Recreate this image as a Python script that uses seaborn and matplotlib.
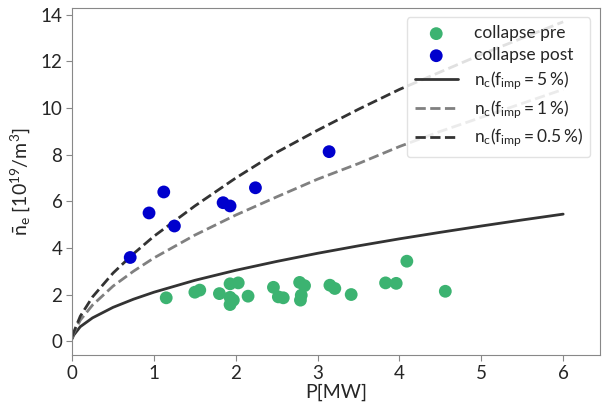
import matplotlib
matplotlib.use("Agg")
import matplotlib.pyplot as plt
import seaborn as sns
import pandas as pd

pre_P = [1.15, 1.50, 1.56, 1.80, 1.93, 2.03, 1.93, 1.97, 1.93, 2.15, 2.46, 2.52, 2.58,
         2.78, 2.84, 2.80, 2.79, 3.15, 3.21, 3.41, 3.83, 3.96, 4.09, 4.56]
pre_n = [1.86, 2.10, 2.19, 2.04, 2.46, 2.50, 1.88, 1.76, 1.57, 1.93, 2.31, 1.90, 1.86,
         2.52, 2.38, 1.97, 1.76, 2.40, 2.26, 2.00, 2.50, 2.48, 3.43, 2.14]

post_P = [0.71, 0.94, 1.12, 1.25, 1.845, 1.93, 2.24, 3.14]
post_n = [3.59, 5.50, 6.40, 4.94, 5.94, 5.80, 6.58, 8.13]

# critical density curves, values read at these powers
curve_P = [0.0, 0.02, 0.1, 0.25, 0.5, 0.75, 1.0, 1.5, 2.0, 2.5, 3.0, 3.5, 4.0, 4.5, 5.0, 5.5, 6.0]
nc_5 = [0.10, 0.26, 0.62, 1.00, 1.45, 1.80, 2.10, 2.61, 3.04, 3.42, 3.77, 4.09, 4.39, 4.67, 4.94, 5.20, 5.45]
nc_1 = [0.15, 0.34, 0.90, 1.55, 2.36, 3.00, 3.57, 4.55, 5.41, 6.19, 6.95, 7.62, 8.35, 9.00, 9.60, 10.20, 10.80]
nc_05 = [0.20, 0.39, 1.07, 1.90, 2.92, 3.75, 4.50, 5.80, 7.00, 8.10, 9.05, 9.95, 10.80, 11.55, 12.30, 13.00, 13.70]

sns.set_style("ticks")
plt.rcParams["font.family"] = ["Lato", "DejaVu Sans"]
plt.rcParams["mathtext.fontset"] = "custom"
plt.rcParams["mathtext.rm"] = "Lato"
plt.rcParams["mathtext.it"] = "Lato:italic"
plt.rcParams["mathtext.bf"] = "Lato:bold"

pre = pd.DataFrame({"P": pre_P, "n": pre_n})
post = pd.DataFrame({"P": post_P, "n": post_n})
curves = pd.DataFrame({"P": curve_P, "c5": nc_5, "c1": nc_1, "c05": nc_05})

fig = plt.figure(figsize=(6.11, 4.12), dpi=100)
ax = fig.add_axes([0.118, 0.138, 0.864, 0.843])

sns.scatterplot(data=pre, x="P", y="n", color="#3cb371", s=85, edgecolor="none",
                label="collapse pre", ax=ax, zorder=3)
sns.scatterplot(data=post, x="P", y="n", color="#0000cd", s=85, edgecolor="none",
                label="collapse post", ax=ax, zorder=3)
sns.lineplot(data=curves, x="P", y="c5", color="#333333", lw=2, ax=ax,
             label=r"$\mathrm{n_c(f_{imp} = 5\,\%)}$")
sns.lineplot(data=curves, x="P", y="c1", color="#808080", lw=2, linestyle="--", ax=ax,
             label=r"$\mathrm{n_c(f_{imp} = 1\,\%)}$")
sns.lineplot(data=curves, x="P", y="c05", color="#333333", lw=2, linestyle="--", ax=ax,
             label=r"$\mathrm{n_c(f_{imp} = 0.5\,\%)}$")

ax.set_xlim(0, 6.45)
ax.set_ylim(-0.6, 14.3)
ax.set_xticks([0, 1, 2, 3, 4, 5, 6])
ax.set_yticks([0, 2, 4, 6, 8, 10, 12, 14])
ax.tick_params(labelsize=13.5, color="#888888", length=4, pad=3)
for sp in ax.spines.values():
    sp.set_color("#888888")
    sp.set_visible(True)

ax.set_xlabel("P[MW]", fontsize=14, labelpad=1)
ax.set_ylabel(r"$\mathrm{\bar{n}_e\ [10^{19}/m^3]}$", fontsize=14, labelpad=6)

ax.legend(loc="upper right", fontsize=12.5, frameon=True, framealpha=0.85,
          edgecolor="#dddddd", handlelength=2.5, handletextpad=0.9,
          borderpad=0.45, labelspacing=0.35, borderaxespad=0.55)

plt.savefig("out.png", dpi=100)
